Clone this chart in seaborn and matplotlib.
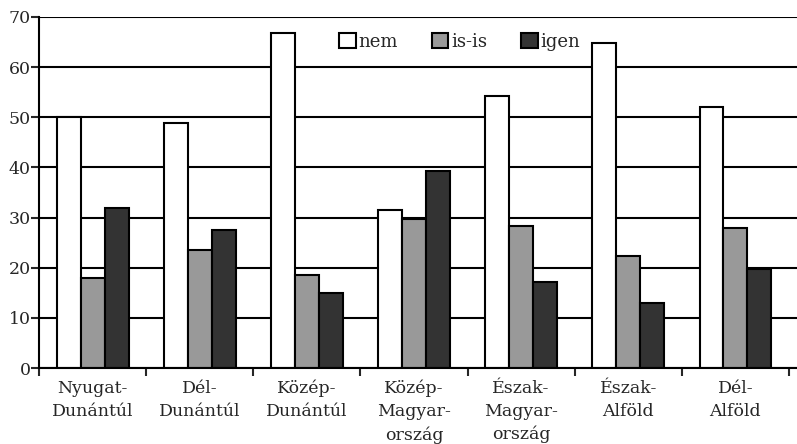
import pandas as pd
import numpy as np
import matplotlib.pyplot as plt
import seaborn as sns

# Regions and answer shares (%)
regions = ["Nyugat-\nDunántúl", "Dél-\nDunántúl", "Közép-\nDunántúl", "Közép-\nMagyar-\nország",
           "Észak-\nMagyar-\nország", "Észak-\nAlföld", "Dél-\nAlföld"]
answers = ["nem", "is-is", "igen"]
nem = [50.0, 48.8, 66.8, 31.6, 54.2, 64.8, 52.0]
isis = [18.0, 23.6, 18.5, 29.8, 28.4, 22.4, 28.0]
igen = [32.0, 27.6, 15.0, 39.2, 17.2, 13.0, 19.8]
colors = ["#ffffff", "#999999", "#333333"]

df = pd.DataFrame({"region": regions * 3,
                   "answer": np.repeat(answers, len(regions)),
                   "value": nem + isis + igen})

sns.set_style("white")
plt.rcParams['font.family'] = ['DejaVu Serif']

fig = plt.figure(figsize=(7.97, 4.44), dpi=100)
ax = fig.add_axes([0.049, 0.171, 0.951, 0.791])

sns.barplot(data=df, x="region", y="value", hue="answer", hue_order=answers,
            palette=colors, width=0.67, edgecolor="black", linewidth=1.5,
            saturation=1, ax=ax)

# grid + axes styling
ax.set_ylim(0, 70)
ax.set_xlim(-0.5, 6.575)
ax.set_yticks(range(0, 71, 10))
ax.yaxis.grid(True, color="black", linewidth=1.5)
ax.set_axisbelow(True)
for s in ["top", "right"]:
    ax.spines[s].set_visible(False)
for s in ["left", "bottom"]:
    ax.spines[s].set_color("black")
    ax.spines[s].set_linewidth(1.5)

ax.set_xlabel("")
ax.set_ylabel("")
ax.tick_params(axis="y", which="major", left=True, length=6, width=1.5, labelsize=12.5, pad=0)
ax.tick_params(axis="x", which="major", bottom=False, labelsize=12.5, pad=5)
for lbl in ax.get_xticklabels():
    lbl.set_linespacing(1.45)
ax.set_xticks(np.arange(-0.5, 6.6, 1), minor=True)
ax.tick_params(axis="x", which="minor", bottom=True, length=6, width=1.5)

ax.legend(loc="center", bbox_to_anchor=(0.555, 0.929), ncol=3, frameon=False,
          handlelength=0.9, handleheight=0.9, handletextpad=0.15, columnspacing=1.9,
          fontsize=13, borderaxespad=0)

plt.savefig("out.png", dpi=100)
